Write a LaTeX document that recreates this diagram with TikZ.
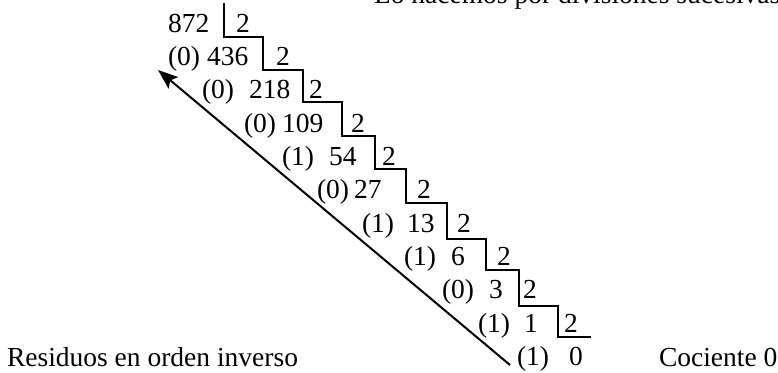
\documentclass[tikz,border=0pt]{standalone}
\usepackage{fontspec}
\setmainfont{Liberation Serif}
\usetikzlibrary{arrows.meta}
\begin{document}
\begin{tikzpicture}[x=1pt,y=-1pt,
  txt/.style={anchor=base west,inner sep=0pt,outer sep=0pt,font=\fontsize{27.5}{32}\selectfont},
  stair/.style={line width=1.5pt,line join=miter},
  revarrow/.style={line width=2pt,-{Stealth[length=20pt,width=15pt,inset=4pt]}}]
\useasboundingbox (0,0) rectangle (778,372);
% title (cut at top)
\node[txt] (title) at (374,3.5) {Lo hacemos por divisiones sucesivas};
% rows: quotient numbers
\node[txt] (q0) at (168,32) {872};
\node[txt] (r1) at (168,65) {(0)};
\node[txt] (q1) at (207,65) {436};
\node[txt] (r2) at (202,98.5) {(0)};
\node[txt] (q2) at (249,98.5) {218};
\node[txt] (r3) at (244,132) {(0)};
\node[txt] (q3) at (282,132) {109};
\node[txt] (r4) at (282,165) {(1)};
\node[txt] (q4) at (329,165) {54};
\node[txt] (r5) at (317,198.5) {(0)};
\node[txt] (q5) at (354,198.5) {27};
\node[txt] (r6) at (362,232) {(1)};
\node[txt] (q6) at (407,232) {13};
\node[txt] (r7) at (404,265) {(1)};
\node[txt] (q7) at (451,265) {6};
\node[txt] (r8) at (442,298.5) {(0)};
\node[txt] (q8) at (489,298.5) {3};
\node[txt] (r9) at (478,332) {(1)};
\node[txt] (q9) at (524,332) {1};
\node[txt] (r10) at (517,365) {(1)};
\node[txt] (q10) at (569,365) {0};
% divisors
\node[txt] (d0) at (236,32) {2};
\node[txt] (d1) at (276,65) {2};
\node[txt] (d2) at (309,98.5) {2};
\node[txt] (d3) at (351,132) {2};
\node[txt] (d4) at (382,165) {2};
\node[txt] (d5) at (417,198.5) {2};
\node[txt] (d6) at (457,232) {2};
\node[txt] (d7) at (497,265) {2};
\node[txt] (d8) at (523,298.5) {2};
\node[txt] (d9) at (564,332) {2};
% staircase
\draw[stair] (224,3) -- (224,37) -- (263,37) -- (263,70) -- (303,70) -- (303,102)
  -- (342,102) -- (342,136) -- (375,136) -- (375,169) -- (406,169) -- (406,203)
  -- (447,203) -- (447,239) -- (486,239) -- (486,270) -- (519,270) -- (519,306)
  -- (558,306) -- (558,337) -- (591,337);
% arrow
\coordinate (arrStart) at (510,365);
\coordinate (arrEnd) at (158,70);
\draw[revarrow] (arrStart) -- (arrEnd);
% labels
\node[txt] (res) at (7,366) {Residuos en orden inverso};
\node[txt] (coc) at (659,366) {Cociente 0};
\end{tikzpicture}
\end{document}
